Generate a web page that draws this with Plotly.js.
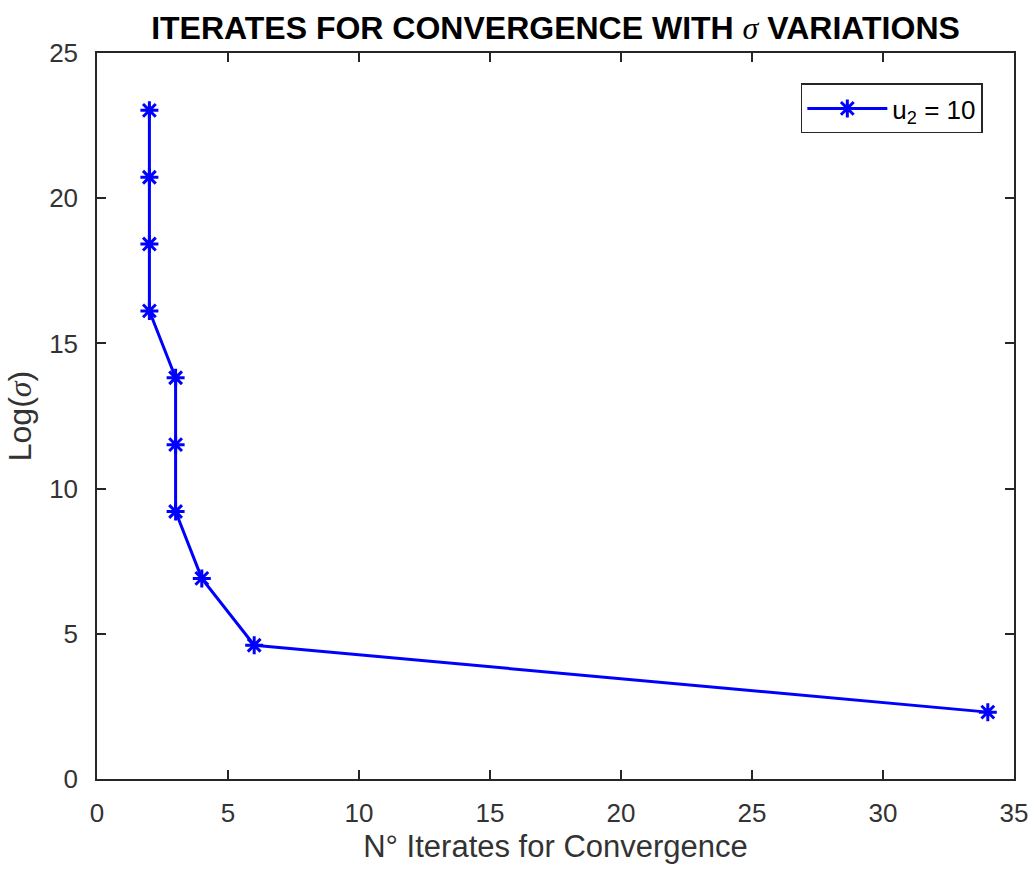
<!DOCTYPE html>
<html><head><meta charset="utf-8">
<script src="https://cdn.plot.ly/plotly-3.0.1.min.js"></script>
<style>html,body{margin:0;padding:0;background:#fff}#plot{width:1034px;height:874px}</style>
</head><body><div id="plot"></div>
<script>
const iterates = [34, 6, 4, 3, 3, 3, 2, 2, 2, 2];
const logSigma = [2.3026, 4.6052, 6.9078, 9.2103, 11.5129, 13.8155, 16.1181, 18.4207, 20.7233, 23.0259];
const seriesName = 'u<sub>2</sub> = 10';
const xTicks = [0, 5, 10, 15, 20, 25, 30, 35];
const yTicks = [0, 5, 10, 15, 20, 25];

const trace = {
  x: iterates, y: logSigma, type: 'scatter', mode: 'lines+markers', name: seriesName,
  line: {color: '#0000ff', width: 3},
  marker: {symbol: 'asterisk-open', size: 15, color: '#0000ff', line: {color: '#0000ff', width: 3}}
};
const axisCommon = {
  showgrid: false, zeroline: false, showline: true, mirror: 'ticks', linecolor: '#262626', linewidth: 1.5,
  ticks: 'inside', ticklen: 9, tickcolor: '#262626', tickwidth: 1.5,
  tickfont: {family: 'Liberation Sans, Arial', size: 26, color: '#333333'}
};
const layout = {
  width: 1034, height: 874, paper_bgcolor: '#fff', plot_bgcolor: '#fff',
  margin: {l: 97, r: 20, t: 53, b: 95},
  title: {text: '<b>ITERATES FOR CONVERGENCE WITH <span style="font-family:Liberation Serif,Times New Roman;font-style:italic;font-weight:normal">σ</span> VARIATIONS</b>',
    font: {family: 'Liberation Sans, Arial', size: 32, color: '#000'}, xref: 'paper', x: 0.5, xanchor: 'center', y: 0.968, yanchor: 'middle'},
  xaxis: Object.assign({}, axisCommon, {range: [0, 35], tickvals: xTicks, ticktext: xTicks.map(String), ticklabelstandoff: 10,
    title: {text: 'N° Iterates for Convergence', font: {family: 'Liberation Sans, Arial', size: 31, color: '#333333'}, standoff: 8}}),
  yaxis: Object.assign({}, axisCommon, {range: [0, 25], tickvals: yTicks, ticktext: yTicks.map(String), ticklabelstandoff: 12,
    title: {text: 'Log(<i style="font-family:Liberation Serif">σ</i>)', font: {family: 'Liberation Sans, Arial', size: 32, color: '#333333'}, standoff: 8}}),
  showlegend: true,
  legend: {x: 0.966, xanchor: 'right', y: 0.958, yanchor: 'top', bgcolor: '#fff', bordercolor: '#262626', borderwidth: 1.5,
    itemwidth: 80, font: {family: 'Liberation Sans, Arial', size: 26, color: '#000'}}
};
Plotly.newPlot('plot', [trace], layout, {displayModeBar: false});
</script></body></html>
